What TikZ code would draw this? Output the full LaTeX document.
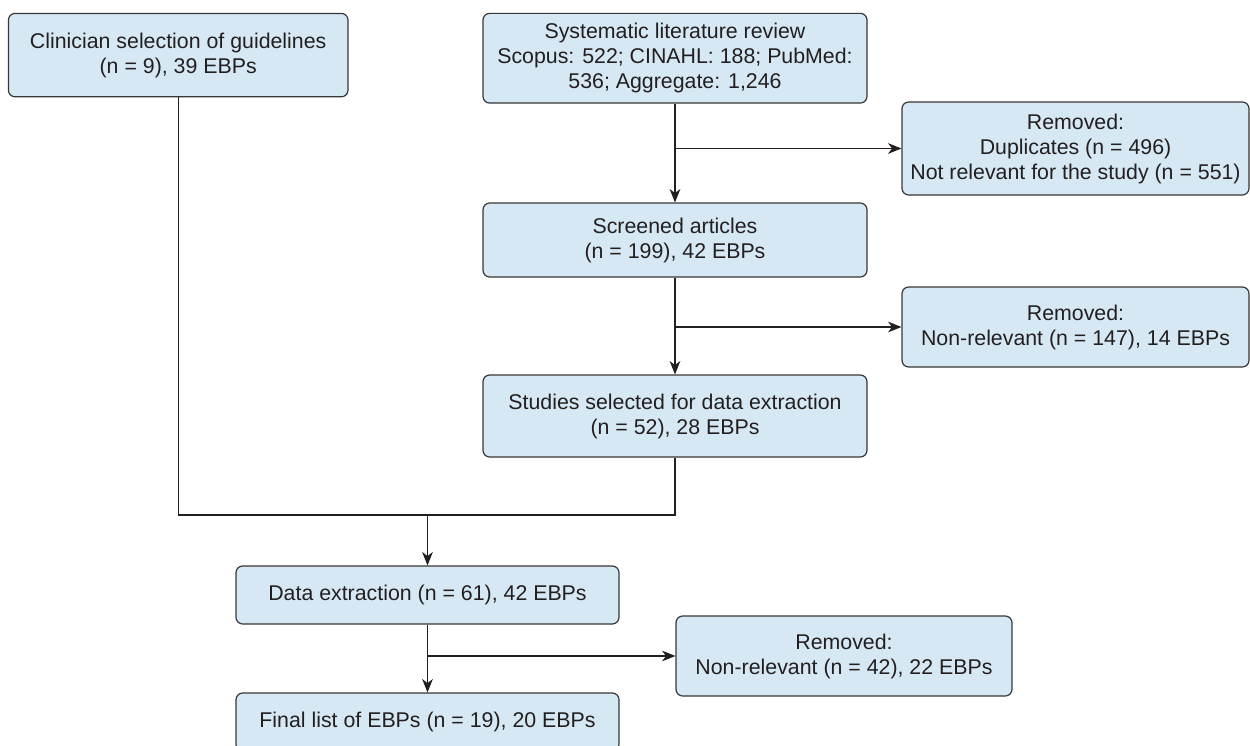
\documentclass[tikz,border=0pt]{standalone}
\usepackage{fontspec}
\setmainfont{Liberation Sans}
\usetikzlibrary{arrows.meta}
\definecolor{boxfill}{RGB}{214,232,243}
\definecolor{boxline}{RGB}{55,55,55}
\definecolor{txt}{RGB}{35,31,32}
\begin{document}
\begin{tikzpicture}[x=0.75pt,y=-0.75pt,
  flowbox/.style={draw=boxline,fill=boxfill,rounded corners=5pt,line width=0.9pt,
    align=center,inner sep=0pt,text=txt,
    font=\fontsize{16pt}{18.75pt}\selectfont},
  conn/.style={draw=txt,line width=0.9pt},
  arr/.style={conn,-{Stealth[length=10pt,width=8pt,inset=3pt]}}]
\useasboundingbox (0,0) rectangle (1250,746);
\node[flowbox,minimum width=339.6*0.75pt,minimum height=83.4*0.75pt] (clin) at (178.2,55.1)
  {Clinician selection of guidelines\\(n = 9), 39 EBPs};
\node[flowbox,minimum width=384*0.75pt,minimum height=89.7*0.75pt] (slr) at (675,58.2)
  {Systematic literature review\\Scopus: 522; CINAHL: 188; PubMed:\\536; Aggregate: 1,246};
\node[flowbox,minimum width=347*0.75pt,minimum height=93*0.75pt] (rem1) at (1075.5,148.5)
  {Removed:\\Duplicates (n = 496)\\Not relevant for the study (n = 551)};
\node[flowbox,minimum width=384*0.75pt,minimum height=74*0.75pt] (scr) at (675,240)
  {Screened articles\\(n = 199), 42 EBPs};
\node[flowbox,minimum width=347*0.75pt,minimum height=80*0.75pt] (rem2) at (1075.5,327)
  {Removed:\\Non-relevant (n = 147), 14 EBPs};
\node[flowbox,minimum width=384*0.75pt,minimum height=82*0.75pt] (stu) at (675,416)
  {Studies selected for data extraction\\(n = 52), 28 EBPs};
\node[flowbox,minimum width=383*0.75pt,minimum height=58*0.75pt] (de) at (427.5,595)
  {Data extraction (n = 61), 42 EBPs};
\node[flowbox,minimum width=336*0.75pt,minimum height=80*0.75pt] (rem3) at (844,656)
  {Removed:\\Non-relevant (n = 42), 22 EBPs};
\node[flowbox,minimum width=383*0.75pt,minimum height=58*0.75pt] (fin) at (427.5,722)
  {Final list of EBPs (n = 19), 20 EBPs};
\coordinate (m) at (427.5,515);
\draw[arr] (slr.south) -- (scr.north);
\draw[arr] (slr.south |- rem1.west) -- (rem1.west);
\draw[arr] (scr.south) -- (stu.north);
\draw[arr] (scr.south |- rem2.west) -- (rem2.west);
\draw[conn] (clin.south) |- (m);
\draw[conn] (stu.south) |- (m);
\draw[arr] (m) -- (de.north);
\draw[arr] (de.south) -- (fin.north);
\draw[arr] (de.south |- rem3.west) -- (rem3.west);
\end{tikzpicture}
\end{document}
